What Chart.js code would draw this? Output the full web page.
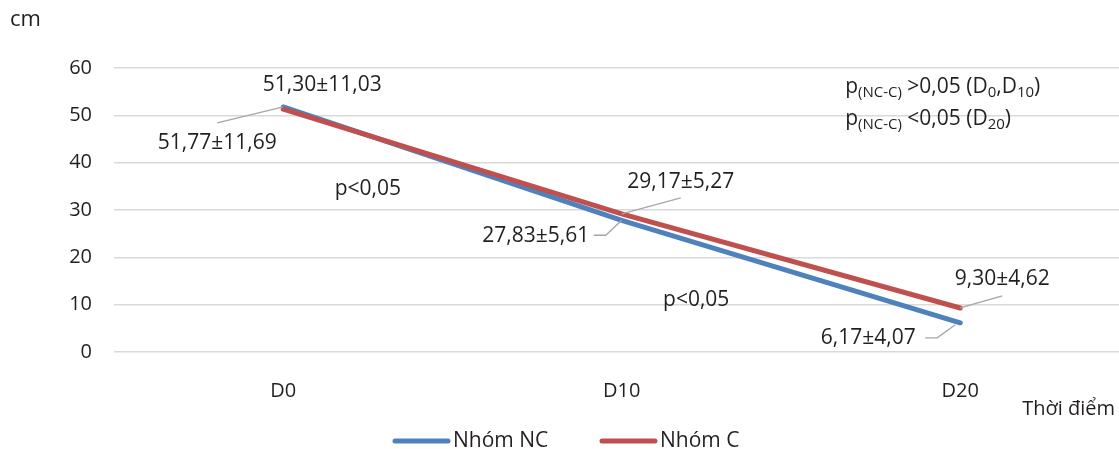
<!DOCTYPE html>
<html>
<head>
<meta charset="utf-8">
<script src="https://cdn.jsdelivr.net/npm/chart.js@4"></script>
<style>
  html, body { margin: 0; padding: 0; background: #fff; overflow: hidden; }
  #wrap { width: 1119px; height: 449px; position: relative; }
</style>
</head>
<body>
<div id="wrap"><canvas id="chart" width="1119" height="449"></canvas></div>
<script>
const categories = ['D0', 'D10', 'D20'];
const ncMean = [51.77, 27.83, 6.17];
const ncSd = [11.69, 5.61, 4.07];
const cMean = [51.30, 29.17, 9.30];
const cSd = [11.03, 5.27, 4.62];
const seriesNames = ['Nhóm NC', 'Nhóm C'];

const FONT = '"Open Sans", "Noto Sans", sans-serif';
const TEXT = '#231f20';
const BLUE = '#4f81bd';
const RED = '#c0504d';

const fmt = v => v.toFixed(2).replace('.', ',');

// label offsets (px) relative to each point: text centre + leader path
const labelPos = [
    [ // Nhóm NC
        { dx: -66, dy: 36, lead: [[-66, 16], [0, 0]] },
        { dx: -86, dy: 16, lead: [[-28, 15], [-16, 15], [0, 0]] },
        { dx: -92, dy: 15, lead: [[-35, 15], [-23, 15], [-5, 2]] }
    ],
    [ // Nhóm C
        { dx: 39, dy: -24, lead: null },
        { dx: 59, dy: -32, lead: [[59, -16], [0, 0]] },
        { dx: 42, dy: -29, lead: [[42, -12], [0, 0]] }
    ]
];
const sds = [ncSd, cSd];

const toPoints = arr => arr.map((v, i) => ({ x: i, y: v }));

const labelsPlugin = {
    id: 'labels',
    afterDatasetsDraw(chart) {
        const ctx = chart.ctx;
        const xs = chart.scales.x, ys = chart.scales.y;
        ctx.save();
        chart.data.datasets.forEach((ds, d) => {
            const meta = chart.getDatasetMeta(d);
            meta.data.forEach((pt, i) => {
                const p = labelPos[d][i];
                if (p.lead) {
                    ctx.strokeStyle = '#a6a6a6';
                    ctx.lineWidth = 1.3;
                    ctx.beginPath();
                    p.lead.forEach((q, k) => {
                        if (k === 0) ctx.moveTo(pt.x + q[0], pt.y + q[1]);
                        else ctx.lineTo(pt.x + q[0], pt.y + q[1]);
                    });
                    ctx.stroke();
                }
                ctx.fillStyle = TEXT;
                ctx.font = '21px ' + FONT;
                ctx.textAlign = 'center';
                ctx.textBaseline = 'middle';
                ctx.fillText(fmt(ds.data[i].y) + '±' + fmt(sds[d][i]), pt.x + p.dx, pt.y + p.dy);
            });
        });

        // p-value notes
        ctx.fillStyle = TEXT;
        ctx.font = '21px ' + FONT;
        ctx.textAlign = 'center';
        ctx.textBaseline = 'middle';
        ctx.fillText('p<0,05', xs.getPixelForValue(0.25), ys.getPixelForValue(34.4));
        ctx.fillText('p<0,05', xs.getPixelForValue(1.22), ys.getPixelForValue(11));

        // top-right note with subscripts
        const drawRich = (parts, x, y) => {
            ctx.textAlign = 'left';
            ctx.textBaseline = 'alphabetic';
            parts.forEach(([t, sub]) => {
                ctx.font = (sub ? '15px ' : '21px ') + FONT;
                ctx.fillText(t, x, y + (sub ? 4 : 0));
                x += ctx.measureText(t).width;
            });
        };
        const nx = xs.getPixelForValue(1.66);
        drawRich([['p', 0], ['(NC-C)', 1], [' >0,05 (D', 0], ['0', 1], [',D', 0], ['10', 1], [')', 0]], nx, 93);
        drawRich([['p', 0], ['(NC-C)', 1], [' <0,05 (D', 0], ['20', 1], [')', 0]], nx, 125);

        // axis titles
        ctx.textBaseline = 'middle';
        ctx.font = '22px ' + FONT;
        ctx.textAlign = 'left';
        ctx.fillText('cm', 10, 20);
        ctx.font = '20px ' + FONT;
        ctx.textAlign = 'right';
        ctx.fillText('Thời điểm', 1115, 409);

        // legend
        const colors = [BLUE, RED];
        const lx = [393, 600];
        ctx.font = '21px ' + FONT;
        ctx.textAlign = 'left';
        seriesNames.forEach((n, k) => {
            ctx.strokeStyle = colors[k];
            ctx.lineWidth = 5;
            ctx.lineCap = 'round';
            ctx.beginPath();
            ctx.moveTo(lx[k] + 2, 441);
            ctx.lineTo(lx[k] + 55, 441);
            ctx.stroke();
            ctx.fillText(n, lx[k] + 60, 441);
        });
        ctx.restore();
    }
};

new Chart(document.getElementById('chart'), {
    type: 'line',
    data: {
        datasets: [{
            label: seriesNames[0],
            data: toPoints(ncMean),
            borderColor: BLUE,
            backgroundColor: BLUE,
            borderWidth: 5,
            borderCapStyle: 'round',
            pointRadius: 0,
            order: 1
        }, {
            label: seriesNames[1],
            data: toPoints(cMean),
            borderColor: RED,
            backgroundColor: RED,
            borderWidth: 5,
            borderCapStyle: 'round',
            pointRadius: 0,
            order: 0
        }]
    },
    options: {
        responsive: false,
        animation: false,
        layout: { padding: { top: 68, right: 0, left: 0, bottom: 0 } },
        plugins: {
            legend: { display: false },
            tooltip: { enabled: false }
        },
        scales: {
            x: {
                type: 'linear',
                min: -0.5,
                max: 2.469,
                grid: { display: false, drawTicks: false },
                border: { display: false },
                afterBuildTicks: s => { s.ticks = categories.map((c, i) => ({ value: i })); },
                afterFit: s => { s.height = 97; },
                ticks: {
                    padding: 27,
                    color: TEXT,
                    font: { family: FONT, size: 20 },
                    callback: v => categories[v]
                }
            },
            y: {
                min: 0,
                max: 60,
                grid: { color: '#d9d9d9', lineWidth: 1.5, drawTicks: false },
                border: { display: false },
                afterFit: s => { s.width = 114; },
                ticks: {
                    stepSize: 10,
                    padding: 22,
                    color: TEXT,
                    font: { family: FONT, size: 20 }
                }
            }
        }
    },
    plugins: [labelsPlugin]
});
</script>
</body>
</html>
